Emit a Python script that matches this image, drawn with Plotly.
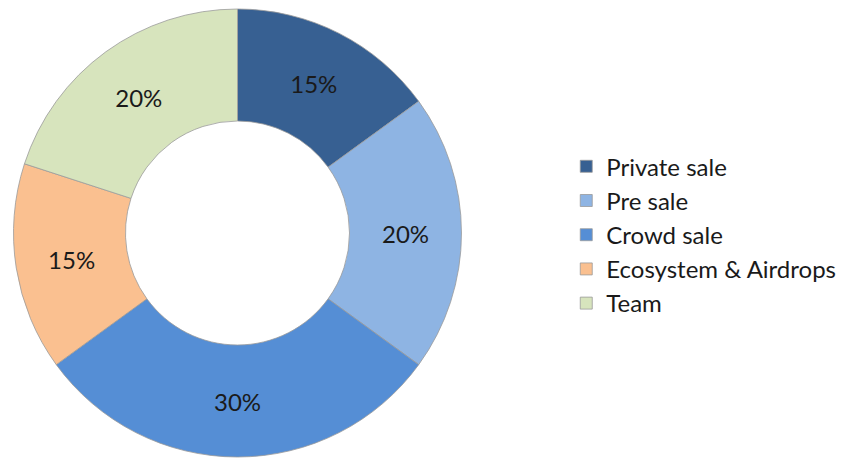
import plotly.graph_objects as go

labels = ["Private sale", "Pre sale", "Crowd sale", "Ecosystem & Airdrops", "Team"]
values = [15, 20, 30, 15, 20]
colors = ["#376092", "#8EB4E3", "#558ED5", "#FAC090", "#D7E4BD"]

fig = go.Figure(go.Pie(
    labels=labels,
    values=values,
    hole=0.5,
    sort=False,
    direction="clockwise",
    rotation=0,
    marker=dict(colors=colors, line=dict(color="#9a9a9a", width=0.8)),
    texttemplate="%{value}%",
    textposition="inside",
    insidetextorientation="horizontal",
    textfont=dict(family="Lato", size=24, color="#1a1a1a"),
    domain=dict(x=[5/851, 454/851], y=[9/458, 457/458]),
))

fig.update_layout(
    width=851, height=458,
    margin=dict(l=0, r=0, t=0, b=0),
    paper_bgcolor="white",
    plot_bgcolor="white",
    showlegend=True,
    legend=dict(
        x=0.656, y=0.505, xanchor="left", yanchor="middle",
        font=dict(family="Lato", size=24, color="#1a1a1a"),
        itemwidth=30,
        tracegroupgap=0,
    ),
)

fig.write_html("out.html")
